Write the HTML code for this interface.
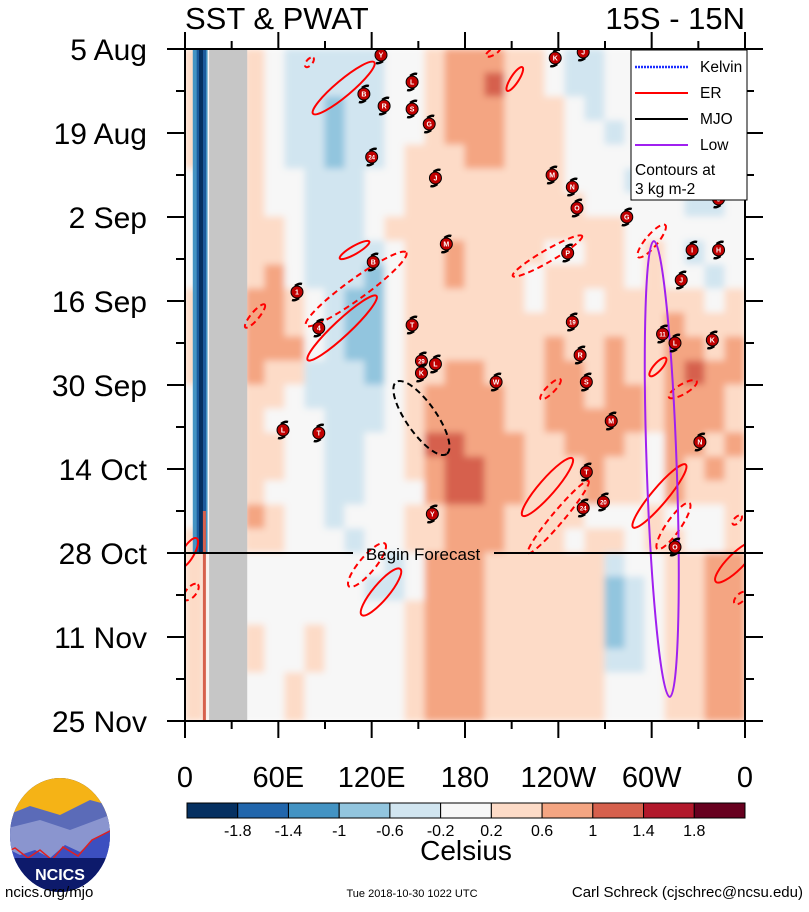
<!DOCTYPE html>
<html><head><meta charset="utf-8"><style>
body{margin:0;background:#fff;font-family:"Liberation Sans",sans-serif}
svg text{font-family:"Liberation Sans",sans-serif}
</style></head><body>
<svg id="chart" width="809" height="907" viewBox="0 0 809 907" xmlns="http://www.w3.org/2000/svg">
<defs>
<clipPath id="plotclip"><rect x="185" y="49" width="560" height="673"/></clipPath>
<filter id="blur" filterUnits="userSpaceOnUse" x="170" y="30" width="600" height="710"><feGaussianBlur stdDeviation="3.5"/></filter>
<clipPath id="logoclip"><ellipse cx="60" cy="835" rx="50" ry="57"/></clipPath>
</defs>
<g id="heat" clip-path="url(#plotclip)"></g>
<g id="overlays" clip-path="url(#plotclip)"></g>
<g id="axes"></g>
<text x="185" y="29" font-size="31">SST &amp; PWAT</text>
<text x="745" y="29" font-size="31" text-anchor="end">15S - 15N</text>
<g>
<rect x="631" y="50" width="116" height="150" fill="#fff" stroke="#000" stroke-width="1"/>
<line x1="635" y1="67" x2="688" y2="67" stroke="#1a2cff" stroke-width="2.5" stroke-dasharray="2 1"/><text x="700" y="72" font-size="15.5">Kelvin</text>
<line x1="635" y1="93" x2="688" y2="93" stroke="#ff0000" stroke-width="2"/><text x="700" y="98" font-size="15.5">ER</text>
<line x1="635" y1="119" x2="688" y2="119" stroke="#000" stroke-width="2"/><text x="700" y="124" font-size="15.5">MJO</text>
<line x1="635" y1="145" x2="688" y2="145" stroke="#a020f0" stroke-width="2"/><text x="700" y="150" font-size="15.5">Low</text>
<text x="635" y="175" font-size="15.5">Contours at</text>
<text x="635" y="194" font-size="15.5">3 kg m-2</text>
</g>
<g id="cbar"></g>
<text x="466" y="860" font-size="28" text-anchor="middle">Celsius</text>
<g>
<g clip-path="url(#logoclip)">
<rect x="0" y="770" width="120" height="130" fill="#0d1a6b"/>
<rect x="0" y="770" width="120" height="50" fill="#f5b316"/>
<polygon points="0,818 30,806 60,815 90,800 120,808 120,850 0,850" fill="#5b6bb8"/>
<polygon points="0,830 40,820 70,830 110,815 120,820 120,860 0,860" fill="#8a95cf"/>
<polygon points="0,845 20,855 35,850 50,858 65,845 80,852 95,838 110,830 120,825 120,880 0,880" fill="#3c4fc0"/>
<polyline points="0,855 15,848 28,858 40,850 52,860 63,847 78,856 92,840 108,832 120,826" fill="none" stroke="#e02020" stroke-width="1.5"/>
<rect x="0" y="858" width="120" height="40" fill="#0d1a6b"/>
</g>
<text x="60" y="880" font-size="16" font-weight="bold" fill="#fff" text-anchor="middle">NCICS</text>
</g>
<text x="5" y="897" font-size="15">ncics.org/mjo</text>
<text x="412" y="897" font-size="11" text-anchor="middle">Tue 2018-10-30 1022 UTC</text>
<text x="803" y="897" font-size="15" text-anchor="end">Carl Schreck (cjschrec@ncsu.edu)</text>
</svg>
<script>
// ---- data ----
const palette = ["#053061","#2166ac","#4393c3","#92c5de","#d1e5f0","#f7f7f7","#fddbc7","#f4a582","#d6604d","#b2182b","#67001f"];
const cbarLabels = ["-1.8","-1.4","-1","-0.6","-0.2","0.2","0.6","1","1.4","1.8"];
const yLabels = ["5 Aug","19 Aug","2 Sep","16 Sep","30 Sep","14 Oct","28 Oct","11 Nov","25 Nov"];
const yLabelDays = [0,14,28,42,56,70,84,98,112];
const xLabels = ["0","60E","120E","180","120W","60W","0"];
const xLabelLons = [0,60,120,180,240,300,360];
const forecastDay = 84;
// SST anomaly levels: 28 rows (4-day steps) x 28 cols (~12.9 deg)
const sstRows = [
"6556544444556777665445554556",
"6556544444556778665445554456",
"6556544344556777666545554456",
"6556544344556777666554544556",
"6556544344566677666555554456",
"5556554445566666666555445445",
"5556554445566666666655555445",
"5556654445666666666666555555",
"5556654444566766665566565455",
"5556754443566766656666565545",
"6557765433566666656656666656",
"6557765433566666666666667666",
"6557775433566666667667667767",
"6557664443566776667767667877",
"5556654444567777667767767776",
"5556555444567777667777767776",
"5556655445568877766777657767",
"5556655445567887766676657676",
"5556555445557887766676657666",
"5557655455566777666655565556",
"6556655545566777666566566556",
"6555555555457776666664556677",
"6555555554457776666663456677",
"6555555555567776666663456677",
"6556556555567776666663456677",
"6556556555567776666664456677",
"6555565555567776666665556677",
"6555565555567776666665556677"
];
const cyclones = [
[126,1,"Y"],[238,1.5,"K"],[256,0.5,"J"],[115,7.5,"B"],[146,5.5,"L"],[128,9.5,"R"],[146,10,"S"],[157,12.5,"G"],[120,18,"24"],[161,21.5,"J"],[236,21,"M"],[249,23,"N"],[252,26.5,"O"],[284,28,"G"],[168,32.5,"M"],[121,35.5,"B"],[246,34,"P"],[72,40.5,"1"],[86,46.5,"4"],[146,46,"T"],[249,45.5,"19"],[326,33.5,"I"],[343,33.5,"H"],[319,38.5,"J"],[307,47.5,"11"],[315,49,"L"],[339,48.5,"K"],[254,51,"R"],[152,52,"29"],[161,52.5,"L"],[152,54,"K"],[200,55.5,"W"],[258,55.5,"S"],[63,63.5,"L"],[86,64,"T"],[274,62,"M"],[331,65.5,"N"],[258,70.5,"T"],[256,76.5,"24"],[269,75.5,"20"],[159,77.5,"Y"],[315,83,"O"],[343,25,"J"]
];
// contour ellipses: [lonCenter, dayCenter, rx, ry, angle, type]
const contours = [
[102,6.5,40,8,-40,"er"],[101,46.5,47,8,-43,"er"],[109,33.5,17,4,-30,"er"],[212,5,14,4,-57,"er"],[233,73,38,8,-49,"er"],[305,74.5,41,8,-50,"er"],[126,90.5,30,8,-50,"er"],[304,53,12,4,-48,"er"],[2,84,17,6,-60,"er"],[354,85.5,28,8,-45,"er"],
[80,2.2,6,3,-50,"erd"],[110,40,62,10,-36,"erd"],[45,44.5,15,4,-50,"erd"],[233,34.5,40,6,-30,"erd"],[300,32,21,6,-50,"erd"],[235,56.7,14,4,-45,"erd"],[320,56.7,16,5,-30,"erd"],[240,78,47,6,-50,"erd"],[117,86,28,8,-50,"erd"],[314,79.5,28,7,-55,"erd"],[4,90.5,10,5,-50,"erd"],[357,91.5,8,4,-45,"erd"],[355,78.5,6,3,-45,"erd"],[198,0.5,8,3,-30,"erd"],
[152,61.5,44,15,55,"mjo"]
];
const lowContour = [306.5,70,15,228,-2];
// ---- scales ----
const X0=185,X1=745,Y0=49,DAYPX=6.0;
function xs(lon){return X0+lon*(X1-X0)/360;}
function ys(day){return Y0+day*DAYPX;}
const NS="http://www.w3.org/2000/svg";
function mk(tag,attrs,parent){const e=document.createElementNS(NS,tag);for(const k in attrs)e.setAttribute(k,attrs[k]);parent.appendChild(e);return e;}
// ---- heatmap ----
const heat=document.getElementById('heat');
const hg=mk('g',{filter:'url(#blur)'},heat);
const nR=sstRows.length, nC=28;
const cw=(X1-X0)/nC, rh=112*DAYPX/nR;
sstRows.forEach((row,r)=>{
  for(let c=0;c<nC;c++){
    const lv=parseInt(row[c]||"5");
    const cell=mk('rect',{x:X0+c*cw-0.5,y:Y0+r*rh-0.5,width:cw+1,height:rh+1,fill:palette[lv]},hg);
    
    
  }
});
// coastal strips
const strip=mk('rect',{x:xs(5),y:Y0,width:xs(14.5)-xs(5),height:ys(forecastDay)-Y0,fill:"#4393c3"},heat);


mk('rect',{x:xs(7.5),y:Y0,width:xs(13.5)-xs(7.5),height:ys(forecastDay)-Y0,fill:"#1c5a9c"},heat);
mk('rect',{x:xs(9),y:Y0,width:4,height:ys(forecastDay)-Y0,fill:"#053061"},heat);
const rstrip=mk('rect',{x:xs(11.5),y:ys(77),width:3,height:ys(112)-ys(77),fill:"#d6604d"},heat);


const land=mk('rect',{x:xs(15.5),y:Y0,width:xs(40)-xs(15.5),height:673,fill:"#c6c6c6"},heat);


// ---- overlays ----
const ov=document.getElementById('overlays');
contours.forEach(c=>{
  const col=c[5]==="mjo"?"#000":"#ff0000";
  const dash=(c[5]==="erd"||c[5]==="mjo")?"6 4":"none";
  const e=mk('ellipse',{cx:xs(c[0]),cy:ys(c[1]),rx:c[2],ry:c[3],transform:`rotate(${c[4]} ${xs(c[0])} ${ys(c[1])})`,fill:"none",stroke:col,"stroke-width":2,"stroke-dasharray":dash},ov);
  
  
});
{const c=lowContour;
const e=mk('ellipse',{cx:xs(c[0]),cy:ys(c[1]),rx:c[2],ry:c[3],transform:`rotate(${c[4]} ${xs(c[0])} ${ys(c[1])})`,fill:"none",stroke:"#a020f0","stroke-width":2},ov);

}
// forecast line
const fy=ys(forecastDay);
mk('line',{x1:X0,y1:fy,x2:353,y2:fy,stroke:"#000","stroke-width":2},ov);
const fl=mk('line',{x1:494,y1:fy,x2:X1,y2:fy,stroke:"#000","stroke-width":2},ov);


const ft=mk('text',{x:423,y:fy+7,"font-size":17,"text-anchor":"middle"},ov);
ft.textContent="Begin Forecast";


cyclones.forEach(c=>{
  const cx=xs(c[0]),cy=ys(c[1]);
  const g=mk('g',{},ov);
  
  
  mk('path',{d:`M${cx-2},${cy-6} q4,-3 7,-2 M${cx+2},${cy+6} q-4,3 -7,2`,stroke:"#000","stroke-width":2.5,fill:"none"},g);
  mk('circle',{cx:cx,cy:cy,r:6,fill:"#c00000",stroke:"#000","stroke-width":1},g);
  const t=mk('text',{x:cx,y:cy+2.5,"font-size":c[2].length>1?6:7,"font-weight":"bold",fill:"#fff","text-anchor":"middle"},g);
  t.textContent=c[2];
});
// ---- axes ----
const ax=document.getElementById('axes');
const frame=mk('rect',{x:X0,y:Y0,width:X1-X0,height:112*DAYPX,fill:"none",stroke:"#000","stroke-width":2},ax);


for(let d=0;d<=112;d+=7){
  const y=ys(d),maj=(d%14===0);
  mk('line',{x1:X0-(maj?18:9),y1:y,x2:X0,y2:y,stroke:"#000","stroke-width":2},ax);
  mk('line',{x1:X1,y1:y,x2:X1+(maj?18:9),y2:y,stroke:"#000","stroke-width":2},ax);
}
yLabels.forEach((l,i)=>{
  const t=mk('text',{x:147,y:ys(yLabelDays[i])+11,"font-size":30,"text-anchor":"end"},ax);
  t.textContent=l;
  
  
});
for(let lon=0;lon<=360;lon+=30){
  const x=xs(lon),maj=(lon%60===0);
  mk('line',{x1:x,y1:Y0-(maj?17:8),x2:x,y2:Y0,stroke:"#000","stroke-width":2},ax);
  mk('line',{x1:x,y1:ys(112),x2:x,y2:ys(112)+(maj?17:8),stroke:"#000","stroke-width":2},ax);
}
xLabels.forEach((l,i)=>{
  const t=mk('text',{x:xs(xLabelLons[i]),y:787,"font-size":29,"text-anchor":"middle"},ax);
  t.textContent=l;
  
  
});
// ---- colorbar ----
const cb=document.getElementById('cbar');
const CB0=187,CB1=745,bw=(CB1-CB0)/palette.length;
palette.forEach((col,i)=>{
  const r=mk('rect',{x:CB0+i*bw,y:803,width:bw,height:15,fill:col,stroke:"#000","stroke-width":1},cb);
  
  
});
cbarLabels.forEach((l,i)=>{
  const t=mk('text',{x:CB0+(i+1)*bw,y:836,"font-size":16,"text-anchor":"middle"},cb);
  t.textContent=l;
  
  
});
</script>
</body></html>
